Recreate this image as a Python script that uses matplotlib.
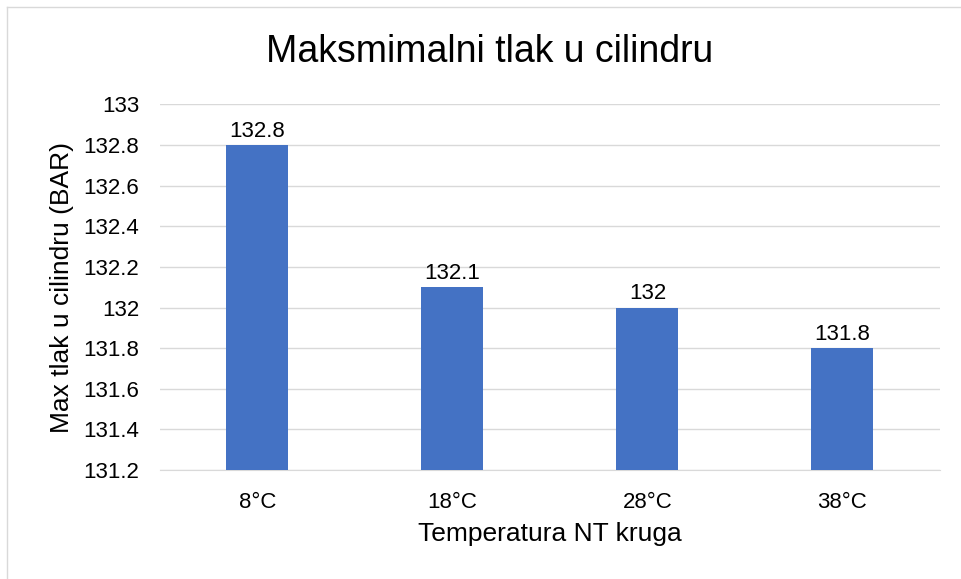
import matplotlib.pyplot as plt
from matplotlib.lines import Line2D

categories = ['8°C', '18°C', '28°C', '38°C']
values = [132.8, 132.1, 132.0, 131.8]
value_labels = ['132.8', '132.1', '132', '131.8']

plt.rcParams['font.family'] = ['Liberation Sans', 'DejaVu Sans']

fig = plt.figure(figsize=(9.61, 5.79), dpi=100)
ax = fig.add_axes([0.1665, 0.188, 0.8115, 0.632])

bar_color = '#4472C4'
x = range(len(categories))
ax.bar(x, [v - 131.2 for v in values], bottom=131.2, width=0.318, color=bar_color, zorder=3)

# value labels above the bars
for i, v in enumerate(values):
    ax.text(i, v + 0.04, value_labels[i], ha='center', va='baseline', fontsize=16, color='#000000')

ax.set_xlim(-0.5, 3.5)
ax.set_ylim(131.2, 133.0)
ticks = [131.2, 131.4, 131.6, 131.8, 132.0, 132.2, 132.4, 132.6, 132.8, 133.0]
ax.set_yticks(ticks)
ax.set_yticklabels(['131.2', '131.4', '131.6', '131.8', '132', '132.2', '132.4', '132.6', '132.8', '133'])
ax.set_xticks(list(x))
ax.set_xticklabels(categories)
ax.tick_params(axis='both', length=0, labelsize=16, colors='#000000')
ax.tick_params(axis='x', pad=16)
ax.tick_params(axis='y', pad=15)

ax.grid(axis='y', color='#D9D9D9', linewidth=1, zorder=0)
for s in ['top', 'right', 'left']:
    ax.spines[s].set_visible(False)
ax.spines['bottom'].set_color('#D9D9D9')

ax.set_xlabel('Temperatura NT kruga', fontsize=19, labelpad=6)
ax.set_ylabel('Max tlak u cilindru (BAR)', fontsize=19, labelpad=7)
fig.text(0.509, 0.893, 'Maksmimalni tlak u cilindru', ha='center', va='baseline', fontsize=27)

# chart frame (only top and left edges fall inside the image)
fig.add_artist(Line2D([0.0073, 1.0], [0.988, 0.988], transform=fig.transFigure, color='#D9D9D9', linewidth=1))
fig.add_artist(Line2D([0.0073, 0.0073], [0.0, 0.988], transform=fig.transFigure, color='#D9D9D9', linewidth=1))

fig.savefig('out.png', dpi=100)
